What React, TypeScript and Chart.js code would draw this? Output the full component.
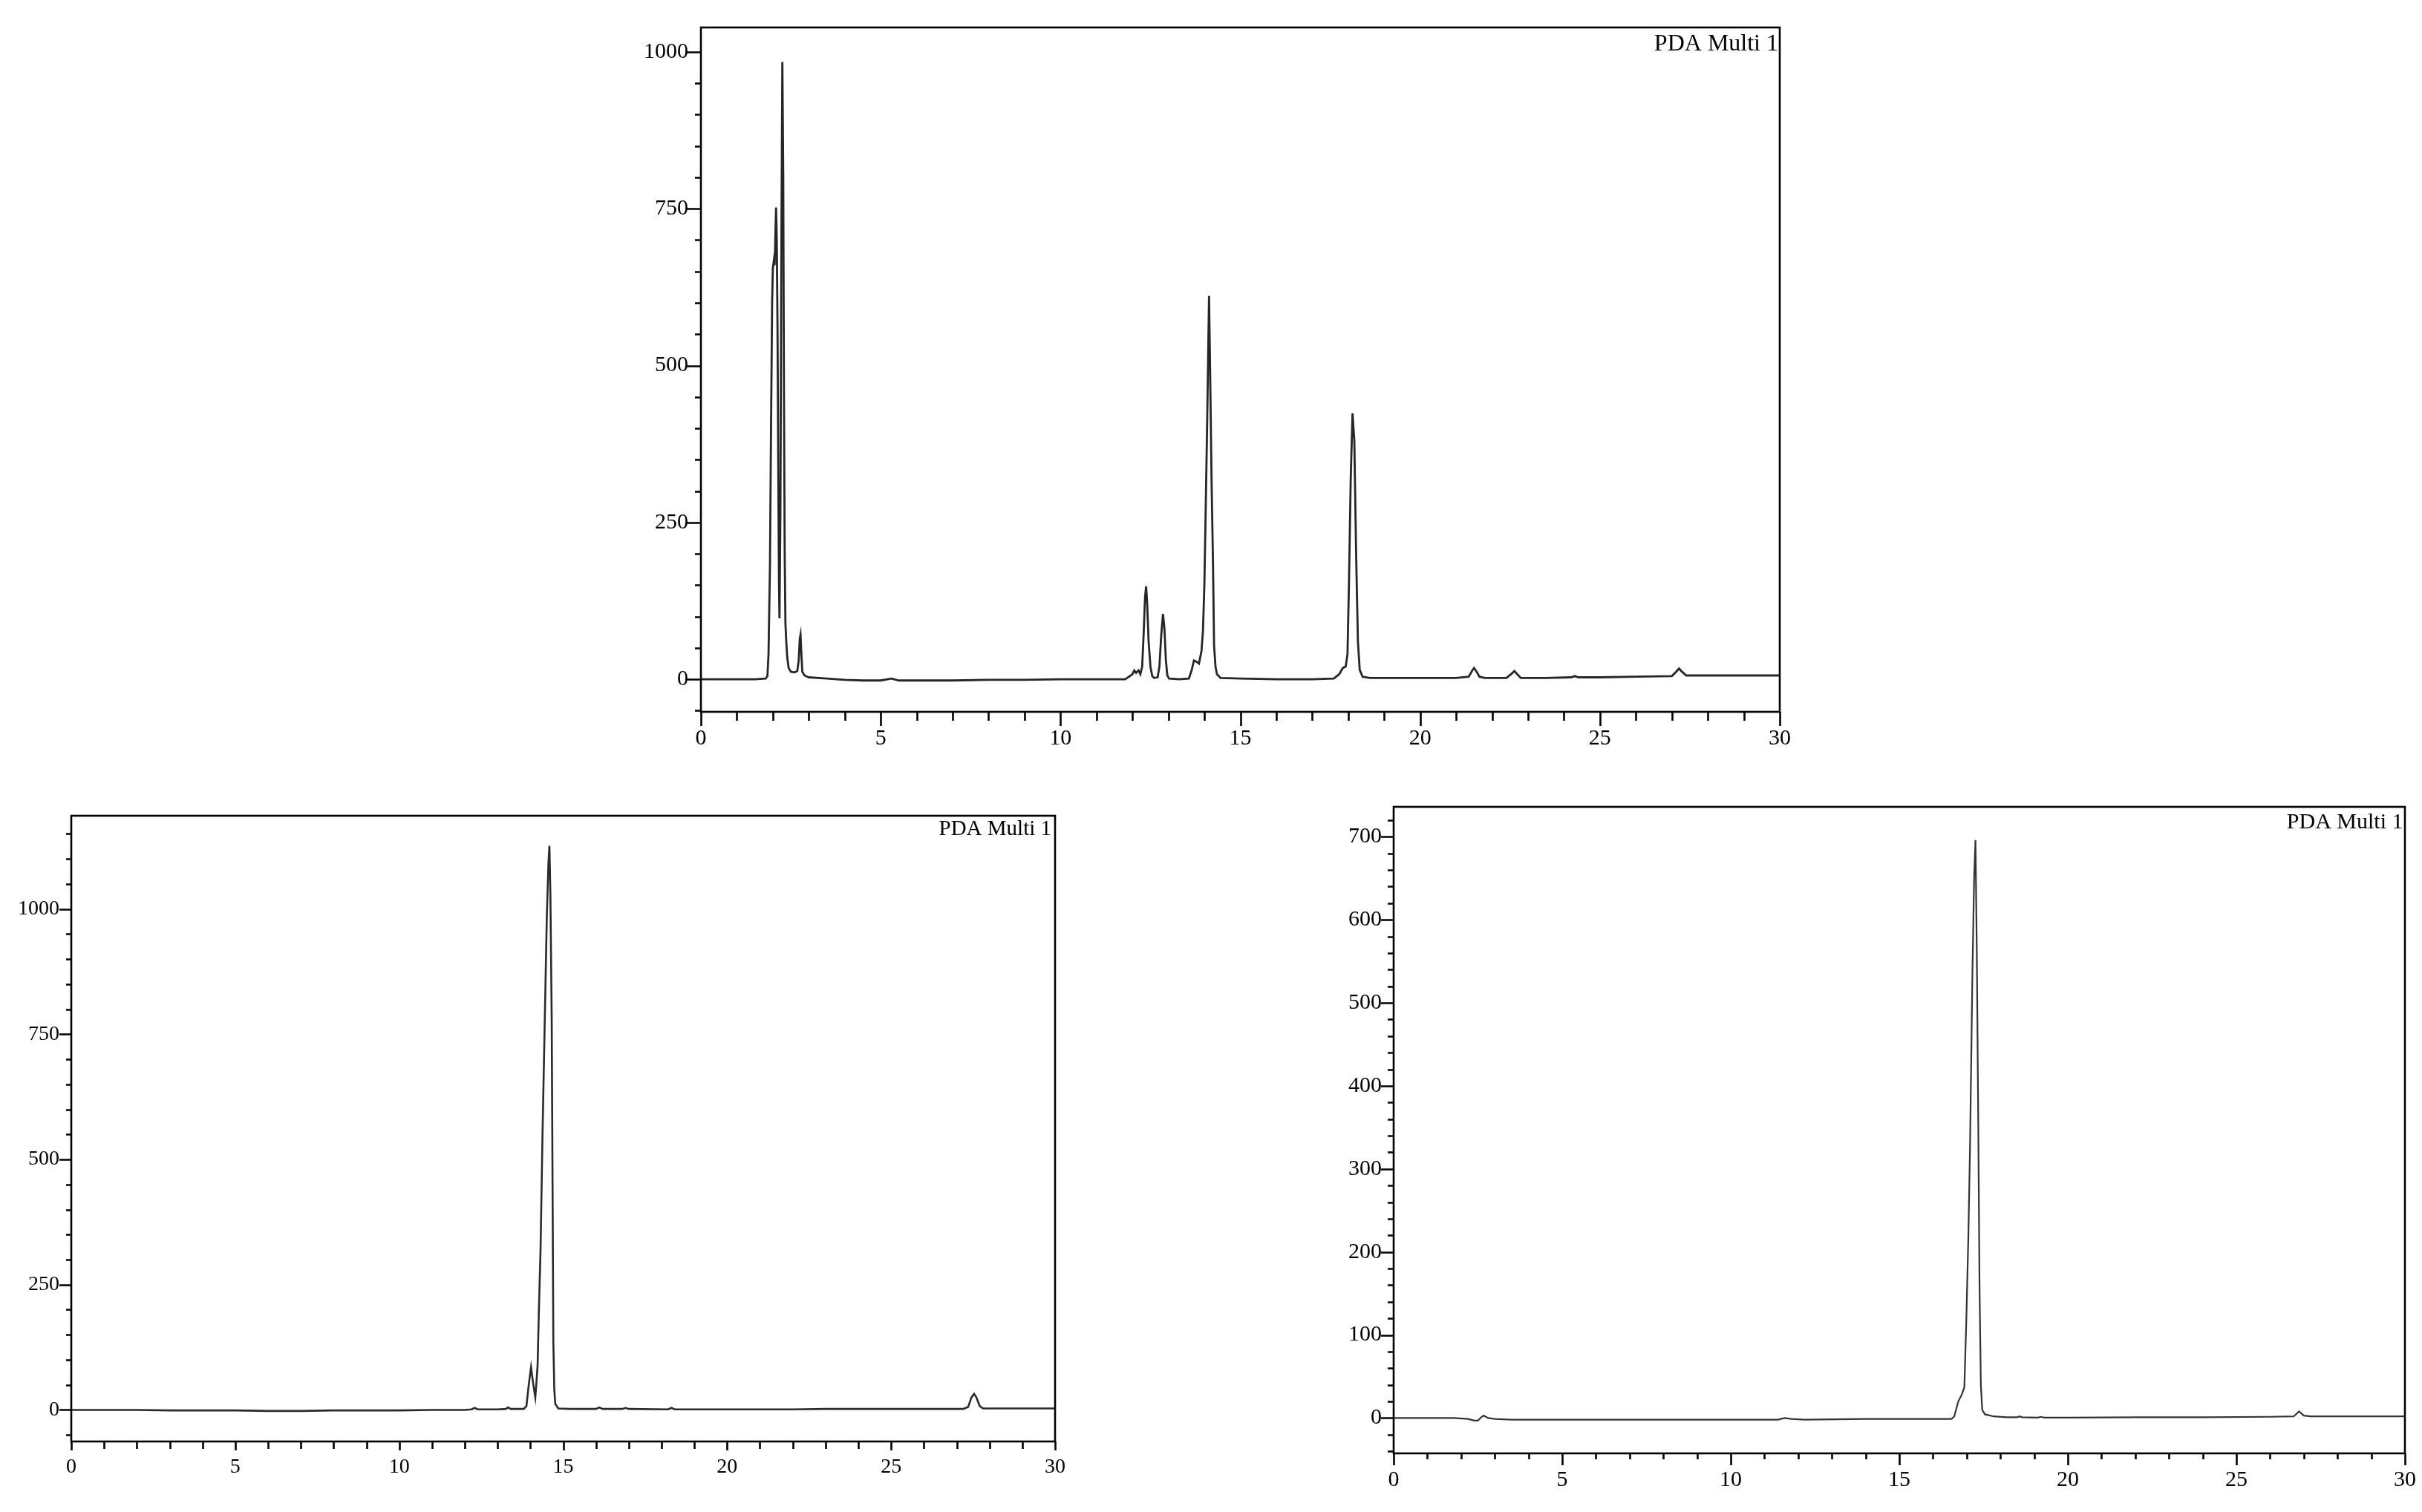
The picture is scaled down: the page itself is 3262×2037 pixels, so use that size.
import { useEffect, useRef } from "react";
import { Chart, registerables } from "chart.js";
Chart.register(...registerables);

// ---------- tick labels ----------
const timeTickLabels = [0, 5, 10, 15, 20, 25, 30];
const topYTickLabels = [0, 250, 500, 750, 1000];
const leftYTickLabels = [0, 250, 500, 750, 1000];
const rightYTickLabels = [0, 100, 200, 300, 400, 500, 600, 700];
const channelName = "PDA Multi 1";

// ---------- top chromatogram ----------
const topTimes = [
  0, 0.5, 1.0, 1.5, 1.8, 1.85, 1.88, 1.92, 1.95, 1.98, 2.0, 2.03, 2.05, 2.07, 2.09, 2.11, 2.13, 2.15, 2.17, 2.185,
  2.21, 2.24, 2.265, 2.29, 2.31, 2.33, 2.35, 2.37, 2.4, 2.44, 2.5, 2.6, 2.68, 2.72, 2.75, 2.77, 2.79, 2.82, 2.88, 3.0,
  3.5, 4.0, 4.5, 5.0, 5.3, 5.5, 6.0, 7.0, 8.0, 9.0, 10.0, 11.0, 11.8, 12.0, 12.05, 12.1, 12.17, 12.22, 12.27, 12.31,
  12.35, 12.38, 12.41, 12.45, 12.5, 12.55, 12.6, 12.7, 12.75, 12.8, 12.85, 12.89, 12.93, 12.97, 13.02, 13.3, 13.57,
  13.65, 13.71, 13.78, 13.85, 13.92, 13.96, 14.0, 14.03, 14.08, 14.13, 14.17, 14.2, 14.24, 14.27, 14.31, 14.35, 14.45,
  15, 16, 17, 17.6, 17.75, 17.85, 17.93, 17.98, 18.02, 18.07, 18.12, 18.17, 18.22, 18.27, 18.32, 18.4, 18.6, 19, 20,
  21, 21.35, 21.45, 21.5, 21.57, 21.65, 21.8, 22.4, 22.55, 22.62, 22.7, 22.8, 23.5, 24.2, 24.3, 24.4, 25, 26, 27.0,
  27.12, 27.2, 27.28, 27.4, 28, 29, 30,
];
const topValues = [
  0, 0, 0, 0, 1, 5, 40, 180, 400, 600, 655, 668, 660, 705, 752, 700, 560, 350, 160, 97,
  260, 720, 984, 800, 450, 200, 90, 64, 35, 18, 12, 11, 13, 30, 65, 71, 45, 12, 6, 3,
  1, -1, -2, -2, 1, -2, -2, -2, -1, -1, 0, 0, 0, 8, 14, 10, 14, 8, 20, 70,
  130, 148, 120, 60, 20, 5, 2, 3, 20, 70, 104, 80, 30, 6, 1, 0, 1,
  15, 30, 28, 25, 45, 76, 150, 247, 417, 611, 450, 316, 185, 53, 20, 8, 2,
  1, 0, 0, 1, 8, 18, 20, 40, 150, 320, 424, 380, 200, 60, 15, 4, 2, 2, 2,
  2, 4, 14, 18, 12, 4, 2, 2, 9, 13, 8, 2, 2, 3, 5, 3, 3, 4, 5,
  12, 17, 12, 6, 6, 6, 6,
];

// ---------- bottom-left chromatogram ----------
const leftTimes = [
  0, 1, 2, 3, 4, 5, 6, 7, 8, 9, 10, 11, 12, 12.2, 12.3, 12.4, 13.0, 13.25, 13.32, 13.4, 13.8, 13.88, 13.95, 14.02,
  14.08, 14.15, 14.19, 14.22, 14.26, 14.31, 14.37, 14.44, 14.5, 14.55, 14.58, 14.61, 14.65, 14.68, 14.7, 14.73, 14.76,
  14.85, 15.2, 16.0, 16.1, 16.2, 16.8, 16.9, 17.0, 18.2, 18.3, 18.4, 20, 22, 23, 25, 27.2, 27.35, 27.45, 27.53, 27.6,
  27.7, 27.8, 28.5, 30,
];
const leftValues = [
  0, 0, 0, -1, -1, -1, -2, -2, -1, -1, -1, 0, 0, 1, 4, 1, 1, 2, 5, 2, 2, 8, 50, 85,
  55, 25, 60, 89, 200, 320, 550, 782, 980, 1090, 1126, 1030, 782, 400, 136, 40, 12,
  3, 2, 2, 5, 2, 2, 4, 2, 1, 4, 1, 1, 1, 2, 2, 2, 6, 25, 32, 25,
  8, 3, 3, 3,
];

// ---------- bottom-right chromatogram ----------
const rightTimes = [
  0, 1, 1.8, 2.2, 2.4, 2.5, 2.6, 2.67, 2.8, 3.0, 3.5, 5, 8, 10, 11.4, 11.6, 11.8, 12.2, 14, 16, 16.55, 16.63, 16.75,
  16.85, 16.93, 16.99, 17.05, 17.1, 17.17, 17.22, 17.26, 17.3, 17.34, 17.38, 17.42, 17.46, 17.54, 17.8, 18.2, 18.5,
  18.57, 18.65, 19.1, 19.2, 19.3, 20, 22, 24, 26, 26.7, 26.86, 27.0, 27.2, 28, 30,
];
const rightValues = [
  0, 0, 0, -1, -3, -3, 1, 3, 0, -1, -2, -2, -2, -2, -2, 0, -1, -2, -1, -1, -1, 2, 20,
  28, 37, 120, 220, 330, 537, 650, 696, 560, 370, 160, 40, 10, 4.5, 2, 1, 1,
  2, 1, 0.5, 1.5, 0.5, 0.5, 1, 1, 1.5, 2, 8, 3, 2, 2, 2,
];

// ---------- panel layout (positions / styles) ----------
type Panel = {
  times: number[];
  values: number[];
  yLabels: number[];
  left: number; top: number; width: number; height: number;
  areaLeft: number; areaTop: number; areaRight: number; areaBottom: number;
  yMin: number; yMax: number; yMinorStep: number;
  xMajorLen: number; xMinorLen: number; yMajorLen: number; yMinorLen: number;
  labelSize: number; titleSize: number; titleInset: number; titleBase: number;
  xPad: number; yPad: number; lineWidth: number; lineColor: string;
};

const FONT = "'Liberation Serif', 'Times New Roman', serif";

const panels: Panel[] = [
  {
    times: topTimes, values: topValues, yLabels: topYTickLabels,
    left: 840, top: 20, width: 1580, height: 1010,
    areaLeft: 944, areaTop: 37, areaRight: 2397, areaBottom: 959,
    yMin: -52, yMax: 1039, yMinorStep: 50,
    xMajorLen: 19, xMinorLen: 12, yMajorLen: 19, yMinorLen: 8,
    labelSize: 30, titleSize: 32, titleInset: 2, titleBase: 31,
    xPad: 18, yPad: 17, lineWidth: 2.8, lineColor: "#262626",
  },
  {
    times: leftTimes, values: leftValues, yLabels: leftYTickLabels,
    left: 0, top: 1080, width: 1440, height: 957,
    areaLeft: 96, areaTop: 1099, areaRight: 1421, areaBottom: 1942,
    yMin: -63, yMax: 1186, yMinorStep: 50,
    xMajorLen: 12, xMinorLen: 10, yMajorLen: 16, yMinorLen: 7,
    labelSize: 28, titleSize: 29, titleInset: 5, titleBase: 26,
    xPad: 18, yPad: 16, lineWidth: 2.6, lineColor: "#2a2a2a",
  },
  {
    times: rightTimes, values: rightValues, yLabels: rightYTickLabels,
    left: 1780, top: 1070, width: 1482, height: 967,
    areaLeft: 1877, areaTop: 1087, areaRight: 3239, areaBottom: 1958,
    yMin: -42.5, yMax: 736, yMinorStep: 20,
    xMajorLen: 16, xMinorLen: 8, yMajorLen: 17, yMinorLen: 8,
    labelSize: 30, titleSize: 30, titleInset: 2.5, titleBase: 29,
    xPad: 18, yPad: 16, lineWidth: 2.2, lineColor: "#333333",
  },
];

function ChromPanel({ p }: { p: Panel }) {
  const ref = useRef<HTMLCanvasElement | null>(null);
  useEffect(() => {
    const canvas = ref.current;
    if (!canvas) return;
    const yAxisW = p.areaLeft - p.left;
    const xAxisH = p.top + p.height - p.areaBottom;
    const padTop = p.areaTop - p.top;
    const padRight = p.left + p.width - p.areaRight;

    const framePlugin = {
      id: "frame",
      afterDraw(chart: any) {
        const { ctx, chartArea: a, scales } = chart;
        const x = scales.x;
        const y = scales.y;
        ctx.save();
        ctx.strokeStyle = "#000";
        ctx.lineWidth = 2.6;
        ctx.strokeRect(a.left, a.top, a.right - a.left, a.bottom - a.top);
        ctx.beginPath();
        for (let k = Math.ceil(x.min); k <= Math.floor(x.max); k++) {
          const px = Math.round(x.getPixelForValue(k)) + 0.5;
          const len = k % 5 === 0 ? p.xMajorLen : p.xMinorLen;
          ctx.moveTo(px, a.bottom);
          ctx.lineTo(px, a.bottom + len);
        }
        const majorSet = new Set(p.yLabels);
        for (let k = Math.ceil(y.min / p.yMinorStep); k * p.yMinorStep <= y.max; k++) {
          const v = k * p.yMinorStep;
          const py = Math.round(y.getPixelForValue(v)) + 0.5;
          const len = majorSet.has(v) ? p.yMajorLen : p.yMinorLen;
          ctx.moveTo(a.left, py);
          ctx.lineTo(a.left - len, py);
        }
        ctx.stroke();
        ctx.fillStyle = "#000";
        ctx.font = `${p.titleSize}px ${FONT}`;
        ctx.textAlign = "right";
        ctx.textBaseline = "alphabetic";
        ctx.fillText(channelName, a.right - p.titleInset, a.top + p.titleBase);
        ctx.restore();
      },
    };

    const chart = new Chart(canvas, {
      type: "line",
      data: {
        datasets: [
          {
            data: p.times.map((t, i) => ({ x: t, y: p.values[i] })),
            borderColor: p.lineColor,
            borderWidth: p.lineWidth,
            pointRadius: 0,
            tension: 0,
            fill: false,
          },
        ],
      },
      options: {
        animation: false,
        responsive: false,
        devicePixelRatio: 1,
        layout: { padding: { top: padTop, right: padRight, left: 0, bottom: 0 } },
        plugins: { legend: { display: false }, tooltip: { enabled: false } },
        scales: {
          x: {
            type: "linear",
            min: 0,
            max: 30,
            grid: { display: false, drawTicks: false },
            border: { display: false },
            afterBuildTicks: (s: any) => {
              s.ticks = timeTickLabels.map((v) => ({ value: v }));
            },
            afterFit: (s: any) => {
              s.height = xAxisH;
              s.paddingLeft = 0;
              s.paddingRight = 0;
            },
            ticks: {
              autoSkip: false,
              maxRotation: 0,
              padding: p.xPad,
              color: "#000",
              font: { family: FONT, size: p.labelSize },
              callback: (v: any) => String(v),
            },
          },
          y: {
            type: "linear",
            min: p.yMin,
            max: p.yMax,
            grid: { display: false, drawTicks: false },
            border: { display: false },
            afterBuildTicks: (s: any) => {
              s.ticks = p.yLabels.map((v) => ({ value: v }));
            },
            afterFit: (s: any) => {
              s.width = yAxisW;
              s.paddingTop = 0;
              s.paddingBottom = 0;
            },
            ticks: {
              autoSkip: false,
              padding: p.yPad,
              color: "#000",
              font: { family: FONT, size: p.labelSize },
              callback: (v: any) => String(v),
            },
          },
        },
      },
      plugins: [framePlugin],
    } as any);
    return () => chart.destroy();
  }, [p]);

  return (
    <canvas
      ref={ref}
      width={p.width}
      height={p.height}
      style={{ position: "absolute", left: p.left, top: p.top, width: p.width, height: p.height }}
    />
  );
}

export default function App() {
  useEffect(() => {
    document.body.style.margin = "0";
    document.body.style.overflow = "hidden";
  }, []);
  return (
    <div style={{ position: "absolute", left: 0, top: 0, width: 3262, height: 2037, background: "#fff" }}>
      {panels.map((p, i) => (
        <ChromPanel key={i} p={p} />
      ))}
    </div>
  );
}
